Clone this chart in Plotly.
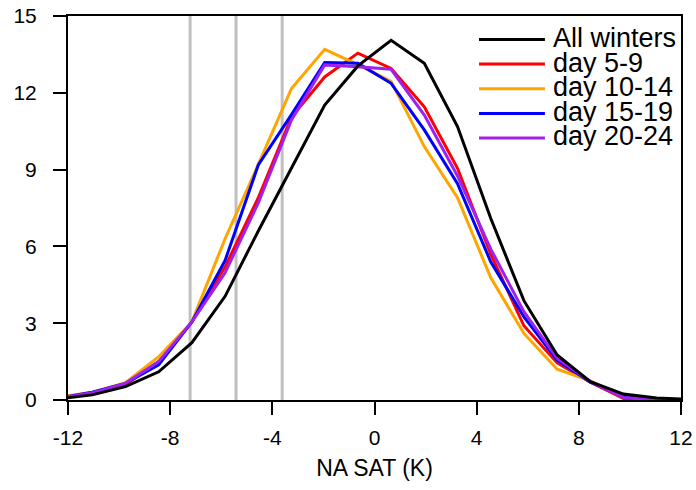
import plotly.graph_objects as go

# ---- data ----
x_bins = [-12.35, -11.05, -9.75, -8.45, -7.15, -5.85, -4.55, -3.25, -1.95, -0.65,
          0.65, 1.95, 3.25, 4.55, 5.85, 7.15, 8.45, 9.75, 11.05, 12.35]
all_winters = [0.05, 0.2, 0.52, 1.1, 2.24, 4.05, 6.6, 9.05, 11.52, 13.05,
               14.05, 13.15, 10.68, 7.1, 3.88, 1.76, 0.72, 0.23, 0.08, 0.02]
day_5_9 = [0.1, 0.27, 0.6, 1.5, 3.05, 5.2, 7.9, 11.05, 12.62, 13.55,
           12.95, 11.45, 9.05, 5.7, 2.9, 1.45, 0.7, 0.06, 0.03, 0.0]
day_10_14 = [0.12, 0.3, 0.68, 1.69, 3.05, 6.3, 9.2, 12.17, 13.7, 13.1,
             12.45, 9.9, 7.9, 4.78, 2.6, 1.2, 0.75, 0.12, 0.03, 0.0]
day_15_19 = [0.08, 0.3, 0.65, 1.37, 3.05, 5.45, 9.18, 11.15, 13.18, 13.15,
             12.37, 10.55, 8.45, 5.4, 3.25, 1.56, 0.7, 0.15, 0.04, 0.0]
day_20_24 = [0.07, 0.28, 0.65, 1.5, 3.05, 4.97, 7.7, 10.94, 13.09, 13.02,
             12.92, 11.13, 8.75, 5.9, 3.45, 1.63, 0.72, 0.1, 0.04, 0.0]
thresholds = [-7.22, -5.42, -3.615]

series_names = ["All winters", "day 5-9", "day 10-14", "day 15-19", "day 20-24"]
series_values = [all_winters, day_5_9, day_10_14, day_15_19, day_20_24]
series_colors = ["#000000", "#FF0000", "#FFA500", "#0000FF", "#A020F0"]

x_ticks = [-12, -8, -4, 0, 4, 8, 12]
y_ticks = [0, 3, 6, 9, 12, 15]
x_title = "NA SAT (K)"

FONT = "Liberation Sans, Arial, Helvetica, sans-serif"

fig = go.Figure()

for t in thresholds:
    fig.add_vline(x=t, line=dict(color="#C0C0C0", width=3), layer="below")

# colored series first, black on top
order = [1, 2, 3, 4, 0]
for i in order:
    fig.add_trace(go.Scatter(
        x=x_bins, y=series_values[i], mode="lines", name=series_names[i],
        line=dict(color=series_colors[i], width=3), showlegend=False,
        hoverinfo="skip"))

# manual legend (NCL-style, tight spacing)
leg_y0 = 0.939
leg_dy = 0.0642
for k, (nm, col) in enumerate(zip(series_names, series_colors)):
    yy = leg_y0 - k * leg_dy
    fig.add_shape(type="line", xref="paper", yref="paper",
                  x0=0.6705, x1=0.778, y0=yy, y1=yy,
                  line=dict(color=col, width=3))
    fig.add_annotation(xref="paper", yref="paper", x=0.788, y=yy + 0.004,
                       text=nm, showarrow=False, xanchor="left", yanchor="middle",
                       font=dict(family=FONT, size=27, color="black"))

axis_common = dict(
    showline=True, linecolor="black", linewidth=2, mirror=True,
    ticks="outside", ticklen=13, tickwidth=2, tickcolor="black",
    showgrid=False, zeroline=False, automargin=False,
    tickfont=dict(family=FONT, size=21, color="black"),
)

fig.update_xaxes(range=[-12, 12], tickvals=x_ticks,
                 ticktext=[str(v) for v in x_ticks],
                 title=dict(text=x_title, font=dict(family=FONT, size=23, color="black"),
                            standoff=12),
                 ticklabelstandoff=5,
                 **axis_common)
fig.update_yaxes(range=[0, 15], tickvals=y_ticks,
                 ticktext=[str(v) for v in y_ticks],
                 ticklabelstandoff=12,
                 **axis_common)

fig.update_layout(
    width=696, height=490,
    margin=dict(l=68, r=15, t=16, b=90),
    plot_bgcolor="white", paper_bgcolor="white",
    showlegend=False,
    font=dict(family=FONT, color="black"),
)

fig.write_html("out.html")
